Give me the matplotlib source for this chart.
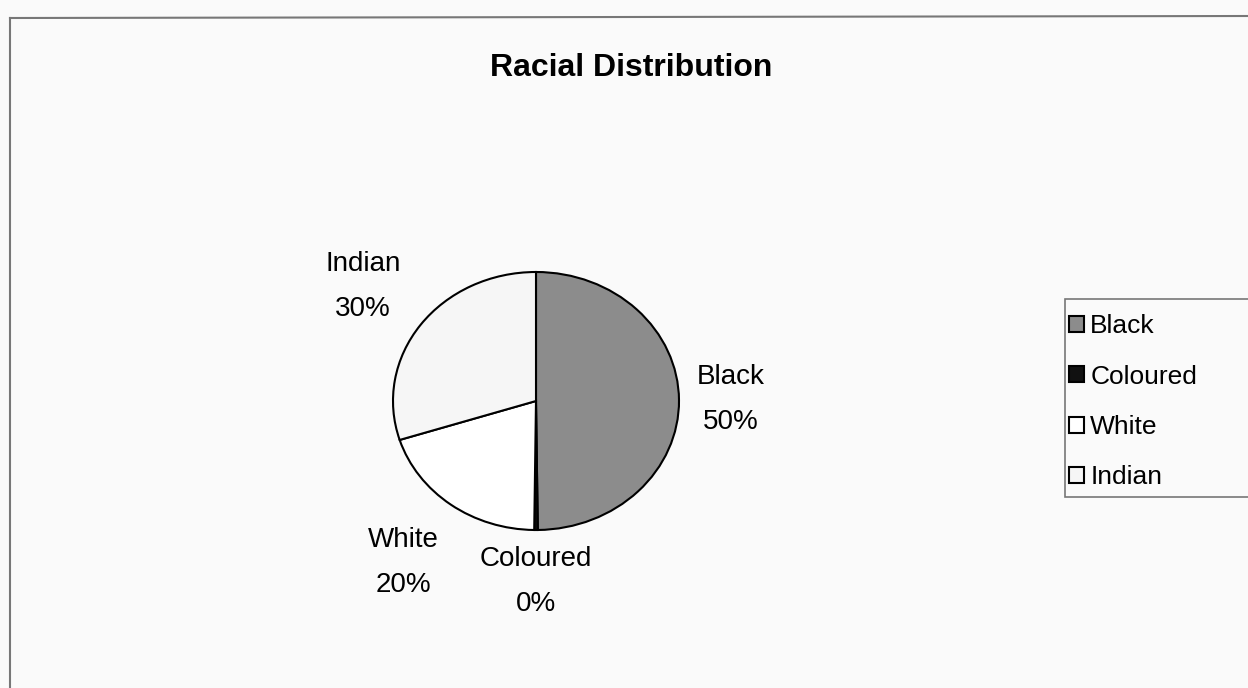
import numpy as np
import matplotlib.pyplot as plt
from matplotlib.lines import Line2D
from matplotlib.patches import Rectangle

# data
races = ['Black', 'Coloured', 'White', 'Indian']
shares = [50, 0.4, 20, 30]
pct_labels = ['50%', '0%', '20%', '30%']
colors = ['#8c8c8c', '#111111', '#ffffff', '#f6f6f6']

# label distance from centre (in radii) for each slice
label_dist = [1.36, 1.40, 1.56, 1.50]

W, H = 1248, 688
fig = plt.figure(figsize=(W / 100, H / 100), dpi=100, facecolor='#fafafa')
plt.rcParams['font.family'] = ['Liberation Sans', 'DejaVu Sans']

# chart border (left and top edges visible)
fig.add_artist(Line2D([10 / W, 10 / W], [0, 1 - 18 / H], transform=fig.transFigure,
                      color='#777777', lw=1.5))
fig.add_artist(Line2D([10 / W, 1], [1 - 18 / H, 1 - 16 / H], transform=fig.transFigure,
                      color='#777777', lw=1.5))

# pie is drawn slightly squashed, like the original
cx, cy, rx, ry = 536, 401, 143, 129
ax = fig.add_axes([(cx - rx) / W, (H - cy - ry) / H, 2 * rx / W, 2 * ry / H])
ax.set_facecolor('none')
wedges, _ = ax.pie(shares, colors=colors, startangle=90, counterclock=False,
                   wedgeprops=dict(edgecolor='black', linewidth=1.5))
ax.set_aspect('auto')
ax.set_xlim(-1, 1)
ax.set_ylim(-1, 1)

for w, name, pct, d in zip(wedges, races, pct_labels, label_dist):
    ang = np.deg2rad((w.theta1 + w.theta2) / 2)
    ax.text(d * np.cos(ang), d * np.sin(ang), name + '\n' + pct,
            ha='center', va='center', fontsize=20, linespacing=1.95)

fig.text(631 / W, 1 - 68 / H, 'Racial Distribution', ha='center', va='center',
         fontsize=23, fontweight='bold')

# legend box runs off the right edge in the original
fig.add_artist(Rectangle((1065 / W, 1 - 497 / H), 200 / W, 198 / H,
                         transform=fig.transFigure, facecolor='#fafafa',
                         edgecolor='#777777', lw=1.2, zorder=0))
leg = fig.legend(wedges, races, loc='upper left',
                 bbox_to_anchor=(1060 / W, 1 - 305 / H), fontsize=19,
                 handlelength=0.55, handleheight=0.55, handletextpad=0.25,
                 labelspacing=1.0, borderpad=0.35, borderaxespad=0,
                 frameon=False)

fig.savefig('out.png', dpi=100, facecolor=fig.get_facecolor())
